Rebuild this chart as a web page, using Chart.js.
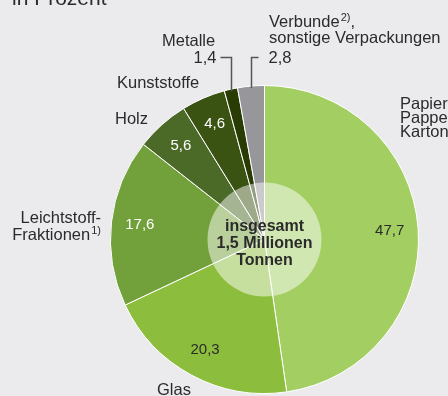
<!DOCTYPE html>
<html>
<head>
<meta charset="utf-8">
<script src="https://cdn.jsdelivr.net/npm/chart.js@4"></script>
<style>
  html, body { margin: 0; padding: 0; background: #ebebee; }
  canvas { display: block; }
</style>
</head>
<body>
<canvas id="pieChart" width="448" height="396"></canvas>
<script>
// Anteile der Verpackungsabfälle, in Prozent (im Uhrzeigersinn ab 12 Uhr)
const categories = ["Papier, Pappe, Karton", "Glas", "Leichtstoff-Fraktionen", "Holz", "Kunststoffe", "Metalle", "Verbunde, sonstige Verpackungen"];
const shares = [47.7, 20.3, 17.6, 5.6, 4.6, 1.4, 2.8];
const sliceColors = ["#a3cf62", "#8dbd3d", "#72a03a", "#4b6a27", "#3a5313", "#283c04", "#97979b"];
const valueTextColors = ["#2b2b2b", "#2b2b2b", "#ffffff", "#ffffff", "#ffffff", null, null];
const centerLines = ["insgesamt", "1,5 Millionen", "Tonnen"];

const FONT = '"Liberation Sans", Arial, sans-serif';
const LABEL_FONT = "16.5px " + FONT;
const fmt = v => v.toFixed(1).replace(".", ",");

// writes text and a raised footnote mark after it
function textWithSup(ctx, txt, sup, x, y, tail) {
  ctx.font = LABEL_FONT;
  ctx.textAlign = "left";
  ctx.fillText(txt, x, y);
  let cx = x + ctx.measureText(txt).width;
  ctx.font = "11px " + FONT;
  ctx.fillText(sup, cx + 1, y - 6);
  cx += 1 + ctx.measureText(sup).width;
  if (tail) {
    ctx.font = LABEL_FONT;
    ctx.fillText(tail, cx, y);
  }
}

const labelsPlugin = {
  id: "labels",
  afterDatasetsDraw(chart) {
    const ctx = chart.ctx;
    const arcs = chart.getDatasetMeta(0).data;
    const cx = arcs[0].x, cy = arcs[0].y, r = arcs[0].outerRadius;
    ctx.save();

    // hell durchscheinende Scheibe in der Mitte
    ctx.beginPath();
    ctx.arc(cx, cy, 57, 0, Math.PI * 2);
    ctx.fillStyle = "rgba(255,255,255,0.5)";
    ctx.fill();

    ctx.fillStyle = "#2a2a2a";
    ctx.font = "bold 16px " + FONT;
    ctx.textAlign = "center";
    ctx.textBaseline = "middle";
    centerLines.forEach((t, i) => ctx.fillText(t, cx, cy - 13 + i * 17));

    // Werte in den Segmenten
    ctx.font = "15px " + FONT;
    arcs.forEach((arc, i) => {
      if (!valueTextColors[i]) return;
      const mid = (arc.startAngle + arc.endAngle) / 2;
      ctx.fillStyle = valueTextColors[i];
      ctx.fillText(fmt(shares[i]), cx + Math.cos(mid) * r * 0.815, cy + Math.sin(mid) * r * 0.815);
    });

    // Hinweislinien für die kleinen Segmente
    ctx.strokeStyle = "#555";
    ctx.lineWidth = 1.5;
    ctx.textBaseline = "alphabetic";
    ctx.fillStyle = "#2b2b2b";
    ctx.font = LABEL_FONT;
    [[5, -11], [6, 7]].forEach(([i, dx]) => {
      const arc = arcs[i];
      const mid = (arc.startAngle + arc.endAngle) / 2;
      const x0 = Math.round(cx + Math.cos(mid) * r) + 0.5;
      const y0 = cy + Math.sin(mid) * r + 2;
      ctx.beginPath();
      ctx.moveTo(x0, y0);
      ctx.lineTo(x0, 57.5);
      ctx.lineTo(x0 + dx, 57.5);
      ctx.stroke();
      ctx.textAlign = dx < 0 ? "right" : "left";
      ctx.fillText(fmt(shares[i]), x0 + dx + (dx < 0 ? -4 : 10), 63);
    });

    // Kategorien außen
    ctx.textAlign = "left";
    ctx.fillText("Metalle", 162, 46);
    ctx.fillText("Kunststoffe", 117, 88);
    ctx.fillText("Holz", 115, 124);
    ctx.fillText("Glas", 157, 395);
    ["Papier,", "Pappe,", "Karton"].forEach((t, i) => ctx.fillText(t, 400, 109 + i * 14));
    textWithSup(ctx, "Verbunde", "2)", 269, 27, ",");
    ctx.font = LABEL_FONT;
    ctx.fillText("sonstige Verpackungen", 269, 43);
    ctx.textAlign = "right";
    ctx.fillText("Leichtstoff-", 101, 223);
    ctx.font = LABEL_FONT;
    const w = ctx.measureText("Fraktionen").width;
    ctx.font = "11px " + FONT;
    const ws = ctx.measureText("1)").width + 1;
    textWithSup(ctx, "Fraktionen", "1)", 101 - w - ws, 240);

    ctx.font = "21px " + FONT;
    ctx.textAlign = "left";
    ctx.fillText("in Prozent", 12, 5);
    ctx.restore();
  }
};

window.onload = function () {
  new Chart(document.getElementById("pieChart"), {
    type: "pie",
    data: {
      labels: categories,
      datasets: [
        {
          data: shares,
          backgroundColor: sliceColors,
          borderColor: "#ffffff",
          borderWidth: 1
        }
      ]
    },
    options: {
      responsive: false,
      animation: false,
      devicePixelRatio: 1,
      layout: { padding: { left: 110, right: 29, top: 85, bottom: 2 } },
      plugins: {
        legend: { display: false },
        tooltip: { enabled: false }
      }
    },
    plugins: [labelsPlugin]
  });
};
</script>
</body>
</html>
